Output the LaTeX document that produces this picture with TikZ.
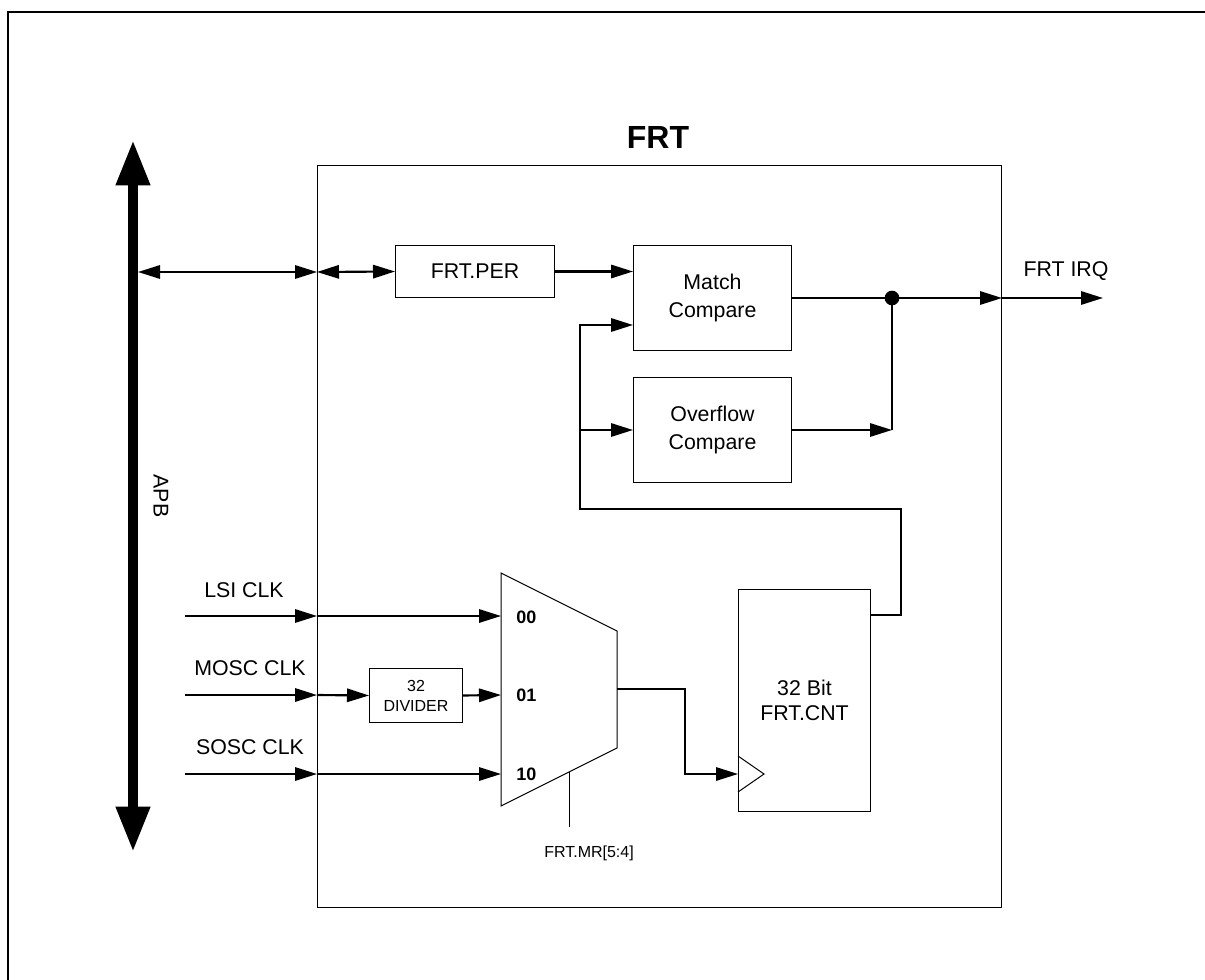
\documentclass[tikz,border=0pt]{standalone}
\usepackage{fontspec}
\setmainfont{Liberation Sans}
\usetikzlibrary{arrows.meta}
\begin{document}
\begin{tikzpicture}[x=0.75pt,y=-0.75pt,
  box/.style={draw, line width=0.75pt, inner sep=0pt, anchor=north west, align=center},
  tip/.style={-{Triangle[length=16.5pt,width=10pt]}},
  sig/.style={line width=1.6pt, tip},
  wire/.style={line width=1.6pt},
  dtip/.style={{Triangle[length=16.5pt,width=10pt]}-{Triangle[length=16.5pt,width=10pt]}, line width=1.6pt},
  lbl/.style={font=\fontsize{16}{21}\selectfont, inner sep=0pt},
  big/.style={font=\fontsize{16}{21}\selectfont},
]
\useasboundingbox (0,0) rectangle (1205,980);
\clip (0,0) rectangle (1205,980);
\fill[white] (0,0) rectangle (1205,980);
% outer frame
\draw[line width=1.3pt] (1210,12) -- (8,12) -- (8,985);

% main FRT box
\node[box, minimum width=513pt, minimum height=556.5pt] (frt) at (317,165) {};
\node[font=\bfseries\fontsize{24}{28}\selectfont, inner sep=0pt] (title) at (658,137) {FRT};

% APB bus
\coordinate (apbtop) at (133,140);
\coordinate (apbbot) at (133,852);
\draw[line width=7.5pt, {Triangle[length=34pt,width=24pt]}-{Triangle[length=34pt,width=24pt]}] (apbbot) -- (apbtop);
\node[lbl, rotate=-90] (apb) at (161,496) {APB};
\coordinate (busR) at (138,272);

% boxes
\node[box, minimum width=119.25pt, minimum height=39pt, big] (per) at (395,245) {FRT.PER};
\node[box, minimum width=118.5pt, minimum height=78.75pt, font=\fontsize{16}{21}\selectfont] (match) at (633,245) {Match\\Compare};
\node[box, minimum width=118.5pt, minimum height=78.75pt, font=\fontsize{16}{21}\selectfont] (ovf) at (633,377) {Overflow\\Compare};
\node[box, minimum width=69.75pt, minimum height=40.5pt, font=\fontsize{12}{15}\selectfont] (div) at (369,668) {32\\DIVIDER};
\node[box, minimum width=99pt, minimum height=166.5pt, font=\fontsize{16}{19}\selectfont] (cnt) at (738,589) {32 Bit\\FRT.CNT};

% clock triangle in counter
\coordinate (clk) at (764,774);
\draw[line width=0.75pt] (738,756) -- (clk) -- (738,792);

% mux
\coordinate (m1) at (501,573);
\coordinate (m2) at (617,631);
\coordinate (m3) at (617,748);
\coordinate (m4) at (501,806);
\draw[line width=0.75pt] (m1) -- (m2) -- (m3) -- (m4) -- cycle;
\node[font=\bfseries\fontsize{13.5}{16}\selectfont, anchor=west, inner sep=0pt] (s00) at (516,617) {00};
\node[font=\bfseries\fontsize{13.5}{16}\selectfont, anchor=west, inner sep=0pt] (s01) at (516,695) {01};
\node[font=\bfseries\fontsize{13.5}{16}\selectfont, anchor=west, inner sep=0pt] (s10) at (516,774) {10};
\coordinate (selA) at (569,772);
\coordinate (selB) at (569,827);
\draw[line width=0.75pt] (selA) -- (selB);
\node[font=\fontsize{12}{14}\selectfont, inner sep=0pt] (mr) at (589,853) {FRT.MR[5:4]};

% bus connections
\draw[dtip] (busR) -- (frt.west |- busR);
\draw[dtip] (frt.west |- busR) -- (per.west);
\draw[sig] (per.east) -- (per.east -| match.west);

% feedback from counter
\coordinate (cntout) at (870,615);
\coordinate (fbA) at (901,615);
\coordinate (fbB) at (901,509);
\coordinate (fbC) at (580,509);
\coordinate (fbD) at (580,325);
\coordinate (fbO) at (580,430);
\draw[sig] (cntout) -- (fbA) -- (fbB) -- (fbC) -- (fbD) -- (fbD -| match.west);
\draw[sig] (fbO) -- (fbO -| ovf.west);

% outputs
\coordinate (dot) at (892,298);
\coordinate (irq) at (1103,298);
\draw[wire] (match.east |- dot) -- (dot);
\draw[sig] (dot) -- (frt.east |- dot);
\draw[sig] (frt.east |- dot) -- (irq);
\fill (dot) circle (5.5pt);
\coordinate (ovfj) at (892,430);
\draw[sig] (ovf.east |- ovfj) -- (ovfj);
\draw[wire] (ovfj) -- (dot);
\node[lbl] (irqlbl) at (1066,271) {FRT IRQ};

% clock inputs
\coordinate (lsi) at (185,616);
\coordinate (mosc) at (185,695);
\coordinate (sosc) at (185,774);
\draw[sig] (lsi) -- (frt.west |- lsi);
\draw[sig] (frt.west |- lsi) -- (m1 |- lsi);
\draw[sig] (mosc) -- (frt.west |- mosc);
\draw[sig] (frt.west |- mosc) -- (div.west);
\draw[sig] (div.east) -- (m1 |- mosc);
\draw[sig] (sosc) -- (frt.west |- sosc);
\draw[sig] (frt.west |- sosc) -- (m1 |- sosc);
\node[lbl] (lsilbl) at (244,590) {LSI CLK};
\node[lbl] (mosclbl) at (250,668) {MOSC CLK};
\node[lbl] (sosclbl) at (250,747) {SOSC CLK};

% mux output to counter clock
\coordinate (mo) at (617,689);
\coordinate (moA) at (685,689);
\coordinate (moB) at (685,774);
\draw[sig] (mo) -- (moA) -- (moB) -- (cnt.west |- moB);
\end{tikzpicture}
\end{document}
